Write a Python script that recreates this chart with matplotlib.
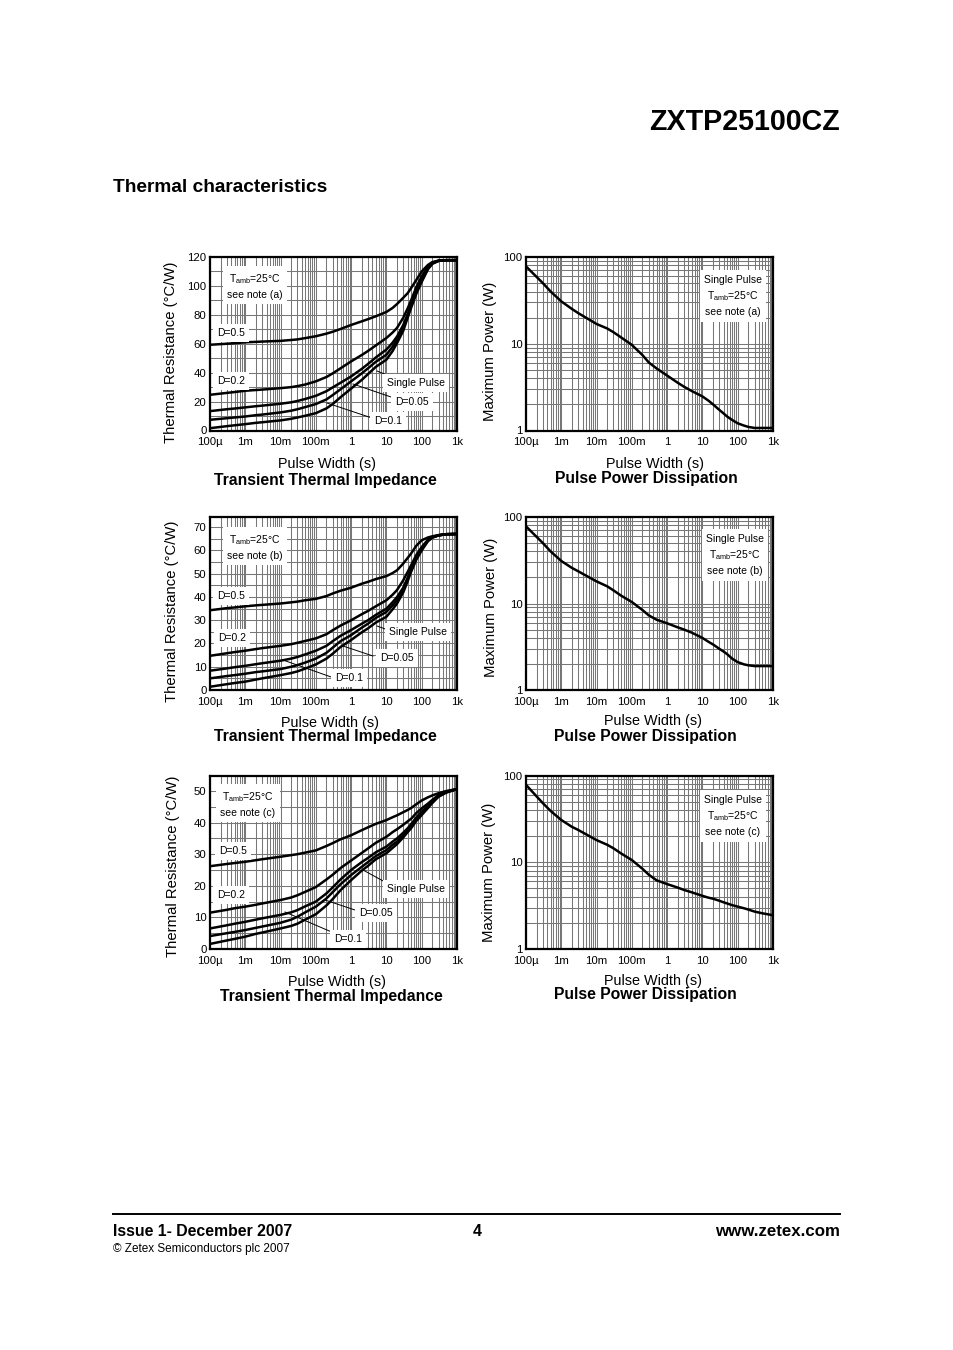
import matplotlib
matplotlib.use("Agg")
import matplotlib.pyplot as plt
from matplotlib.lines import Line2D
from matplotlib.ticker import FixedLocator, NullFormatter

plt.rcParams['font.family'] = ['Liberation Sans', 'DejaVu Sans']
plt.rcParams['mathtext.default'] = 'regular'

W, H = 954, 1350

# ====== DATA ======
decade_ticks = [1e-4, 1e-3, 1e-2, 1e-1, 1, 10, 100, 1000]
decade_labels = ["100µ", "1m", "10m", "100m", "1", "10", "100", "1k"]

# pulse width (s) used for all curves
width = [1e-4, 3e-4, 5e-4, 1e-3, 2e-3, 3e-3, 1e-2, 2e-2, 3e-2, 5e-2, 0.1, 0.2, 0.3, 0.5, 1, 2, 3, 5, 10,
         15, 20, 30, 40, 50, 70, 100, 150, 200, 300, 500, 1000]

# Transient thermal impedance, note (a)
a_d05 = [59.3, 60, 60.4, 61, 61.3, 61.5, 62, 62.6, 63, 63.9, 65.2, 67, 68.3, 70.2, 73, 75.5, 77, 79, 82,
         84.8, 87.5, 91.8, 95, 98.5, 104, 110, 114.5, 116.5, 117.5, 117.8, 117.8]
a_d02 = [24.7, 26, 26.6, 27.5, 28, 28.3, 29.3, 30, 30.7, 31.8, 34, 37, 39.5, 43, 47.8, 52.2, 55, 58.8, 64,
         67.8, 71, 78, 84.5, 90, 99, 106.7, 113, 116, 117.4, 117.8, 117.8]
a_d01 = [13.4, 14.7, 15.2, 16, 16.8, 17.2, 18.5, 19.5, 20.4, 21.8, 24, 27.2, 29.8, 33, 37.4, 42.6, 46, 50.5, 56,
         60.8, 65, 73, 80.5, 87, 96.5, 104.4, 112.5, 115.8, 117.4, 117.8, 117.8]
a_d005 = [7.4, 8.5, 9, 9.7, 10.6, 11, 12.5, 13.7, 14.7, 16.2, 18.3, 21.5, 24.5, 28.5, 34, 39.5, 43, 47.5, 52.4,
          58, 62.8, 71, 79.5, 86, 95.5, 103.7, 112, 115.5, 117.3, 117.8, 117.8]
a_single = [1.6, 3, 3.6, 4.4, 5.3, 5.7, 7, 8.1, 9, 10.2, 12, 15.3, 18.3, 23, 29, 35, 39, 44, 49,
            55, 60.5, 69, 78, 84.8, 94.5, 102.8, 111.5, 115.3, 117.3, 117.8, 117.8]

# Transient thermal impedance, note (b)
b_d05 = [34.3, 35.2, 35.5, 36, 36.4, 36.6, 37.2, 37.7, 38, 38.6, 39.2, 40.4, 41.5, 42.7, 44, 45.7, 46.5, 47.7, 49,
         50.3, 51.5, 54.4, 56.8, 58.7, 62, 64.4, 65.6, 66.1, 66.6, 67, 67.1]
b_d02 = [14.7, 15.8, 16.3, 16.9, 17.6, 18, 19, 19.7, 20.3, 21.1, 22.2, 24, 25.7, 27.7, 30, 32.6, 34, 36, 38.6,
         41, 43, 47.2, 50.8, 53.6, 58, 61.5, 64.6, 65.8, 66.6, 67, 67.1]
b_d01 = [8.3, 9.3, 9.8, 10.4, 11.1, 11.5, 12.6, 13.5, 14.2, 15.3, 16.9, 19, 21, 23.3, 25.8, 28.5, 30, 32.3, 35,
         37.8, 40, 44, 48.2, 52, 57, 61, 64.3, 65.7, 66.5, 67, 67.1]
b_d005 = [5, 6, 6.4, 7, 7.7, 8, 9, 10, 10.7, 11.8, 13.5, 16, 18.2, 21, 23.6, 26.8, 28.5, 31, 33.6,
          36.4, 38.6, 43.6, 48, 51.5, 56.5, 60.8, 64.2, 65.6, 66.5, 67, 67.1]
b_single = [1.4, 2.5, 3, 3.6, 4.5, 5, 6.4, 7.3, 8, 9.2, 11, 13.5, 15.6, 18.5, 21.5, 24.8, 26.5, 29, 31.5,
            34.7, 37.2, 42, 46.8, 50.8, 56, 60, 64, 65.5, 66.5, 67, 67.1]

# Transient thermal impedance, note (c)
c_d05 = [26.2, 26.9, 27.2, 27.6, 28.1, 28.4, 29.2, 29.7, 30, 30.5, 31.2, 32.6, 33.5, 34.7, 36, 37.6, 38.5, 39.6, 40.8,
         41.7, 42.3, 43.3, 44, 44.6, 45.8, 47, 48, 48.6, 49.3, 50, 50.6]
c_d02 = [11.5, 12.4, 12.9, 13.4, 14, 14.4, 15.5, 16.3, 17, 18.1, 19.6, 22, 23.5, 25.6, 28, 30.4, 31.8, 33.6, 35.5,
         37, 37.9, 39.3, 40.4, 41.2, 43, 44.5, 46, 47.2, 48.7, 49.8, 50.6]
c_d01 = [6.5, 7.5, 8, 8.6, 9.3, 9.7, 10.8, 11.6, 12.3, 13.5, 15, 17.6, 19.5, 22, 25, 27.5, 28.8, 30.6, 32.4,
         34, 35, 36.8, 38.2, 39.5, 41.6, 43.5, 45.2, 46.8, 48.5, 49.7, 50.6]
c_d005 = [4.1, 5, 5.4, 6, 6.7, 7.1, 8.3, 9.3, 10.2, 11.6, 13.4, 16, 18, 20.5, 23.4, 26, 27.5, 29.4, 31.3,
          33, 34, 36, 37.6, 38.8, 41, 43, 45, 46.5, 48.3, 49.6, 50.6]
c_single = [1.6, 2.7, 3.2, 3.9, 4.8, 5.2, 6.5, 7.3, 8, 9.3, 11, 13.8, 15.8, 18.6, 21.8, 24.8, 26.3, 28.4, 30.3,
            32, 33.2, 35.3, 37, 38.2, 40.5, 42.4, 44.6, 46.2, 48.2, 49.5, 50.6]

# Pulse power dissipation
power_a = [78, 50, 40, 30.8, 25.2, 22.6, 16.9, 15, 13.6, 11.8, 9.7, 7.4, 6.1, 5.2, 4.3, 3.55, 3.2, 2.85, 2.47,
           2.2, 2, 1.73, 1.57, 1.45, 1.32, 1.21, 1.14, 1.1, 1.07, 1.07, 1.07]
power_b = [78, 50, 40, 31, 25.8, 23.6, 18, 15.8, 14.2, 12.3, 10.4, 8.4, 7.3, 6.5, 5.9, 5.3, 5, 4.6, 4,
           3.6, 3.36, 3, 2.78, 2.6, 2.3, 2.1, 1.98, 1.93, 1.89, 1.89, 1.89]
power_c = [78, 48, 39, 30.7, 25.6, 23.6, 18, 15.9, 14.5, 12.6, 10.6, 8.4, 7.2, 6.2, 5.6, 5.1, 4.8, 4.5, 4.1,
           3.9, 3.8, 3.6, 3.45, 3.35, 3.2, 3.08, 2.95, 2.85, 2.7, 2.58, 2.45]


def px(x, y):
    return x / W, 1 - y / H


def page_text(x, y, s, **kw):
    kw.setdefault("ha", "center")
    kw.setdefault("va", "center")
    fx, fy = px(x, y)
    return fig.text(fx, fy, s, color="black", **kw)


def page_label(x, y, s, size=7.5):
    page_text(x, y, s, fontsize=size, linespacing=1.5, zorder=5,
              bbox=dict(facecolor="white", edgecolor="none", pad=3.2))


def leader(x0, y0, x1, y1):
    a = px(x0, y0)
    b = px(x1, y1)
    fig.add_artist(Line2D([a[0], b[0]], [a[1], b[1]], color="black", lw=0.7, zorder=4))


def make_axes(left, top, right, bottom):
    ax = fig.add_axes([left / W, 1 - bottom / H, (right - left) / W, (bottom - top) / H])
    ax.set_xscale("log")
    ax.set_xlim(1e-4, 1e3)
    ax.xaxis.set_major_locator(FixedLocator(decade_ticks))
    ax.xaxis.set_minor_locator(FixedLocator([m * d for d in decade_ticks[:-1] for m in range(2, 10)]))
    ax.xaxis.set_minor_formatter(NullFormatter())
    ax.set_xticklabels(decade_labels)
    ax.grid(True, which="both", color="#777777", lw=0.75)
    ax.set_axisbelow(True)
    ax.tick_params(which="both", length=0, labelsize=8.2)
    ax.tick_params(axis="x", pad=5)
    ax.tick_params(axis="y", pad=2.5)
    for s in ax.spines.values():
        s.set_linewidth(1.6)
    return ax


def impedance_panel(top, bottom, ymax, yticks, yminor, curves):
    ax = make_axes(210, top, 457, bottom)
    ax.set_ylim(0, ymax)
    ax.set_yticks(yticks)
    ax.set_yticks(yminor, minor=True)
    for c in curves:
        ax.plot(width, c, color="black", lw=1.8, solid_joinstyle="round")
    return ax


def power_panel(top, bottom, curve):
    ax = make_axes(526, top, 773, bottom)
    ax.set_yscale("log")
    ax.set_ylim(1, 100)
    ax.yaxis.set_major_locator(FixedLocator([1, 10, 100]))
    ax.yaxis.set_major_formatter(plt.FixedFormatter(["1", "10", "100"]))
    ax.yaxis.set_minor_locator(FixedLocator([m * d for d in [1, 10] for m in range(2, 10)]))
    ax.yaxis.set_minor_formatter(NullFormatter())
    ax.plot(width, curve, color="black", lw=1.8, solid_joinstyle="round")
    return ax


fig = plt.figure(figsize=(W / 100, H / 100), dpi=100, facecolor="white")

# ====== PAGE TEXT ======
page_text(840, 122, "ZXTP25100CZ", ha="right", fontsize=20.6, fontweight="bold")
page_text(113, 188, "Thermal characteristics", ha="left", fontsize=13.75, fontweight="bold")

# ====== ROW 1 ======
impedance_panel(257, 430.5, 120, range(0, 121, 20), range(10, 120, 20),
                [a_d05, a_d02, a_d01, a_d005, a_single])
power_panel(257, 430.5, power_a)

# ====== ROW 2 ======
impedance_panel(517, 690, 74.4, range(0, 71, 10), range(5, 75, 10),
                [b_d05, b_d02, b_d01, b_d005, b_single])
power_panel(517, 690, power_b)

# ====== ROW 3 ======
impedance_panel(775.5, 949, 54.9, range(0, 51, 10), range(5, 55, 10),
                [c_d05, c_d02, c_d01, c_d005, c_single])
power_panel(775.5, 949, power_c)

# ====== AXIS LABELS AND TITLES ======
for x, y, s in [(327, 464, "Pulse Width (s)"), (655, 464, "Pulse Width (s)"),
                (330, 723, "Pulse Width (s)"), (653, 721, "Pulse Width (s)"),
                (337, 982, "Pulse Width (s)"), (653, 981, "Pulse Width (s)")]:
    page_text(x, y, s, fontsize=10.4, zorder=5)

for x, y, s in [(325, 480, "Transient Thermal Impedance"), (646, 478, "Pulse Power Dissipation"),
                (325, 736, "Transient Thermal Impedance"), (645, 736, "Pulse Power Dissipation"),
                (331, 996, "Transient Thermal Impedance"), (645, 995, "Pulse Power Dissipation")]:
    page_text(x, y, s, fontsize=11.3, fontweight="bold", zorder=6)

for x, y, s in [(171, 352, "Thermal Resistance (°C/W)"), (490, 351, "Maximum Power (W)"),
                (172, 611, "Thermal Resistance (°C/W)"), (491, 607, "Maximum Power (W)"),
                (173, 866, "Thermal Resistance (°C/W)"), (489, 872, "Maximum Power (W)")]:
    page_text(x, y, s, fontsize=10.7, rotation=90)

# ====== NOTES ON THE CHARTS ======
TAMB = "T$_{amb}$=25°C"
page_label(255, 286, TAMB + "\nsee note (a)")
page_label(255, 547, TAMB + "\nsee note (b)")
page_label(248, 804, TAMB + "\nsee note (c)")
page_label(733, 296, "Single Pulse\n" + TAMB + "\nsee note (a)")
page_label(735, 555, "Single Pulse\n" + TAMB + "\nsee note (b)")
page_label(733, 816, "Single Pulse\n" + TAMB + "\nsee note (c)")

for x, y, s in [(231, 333, "D=0.5"), (231, 381, "D=0.2"), (416, 383, "Single Pulse"),
                (412, 402, "D=0.05"), (388, 421, "D=0.1"),
                (231, 596, "D=0.5"), (232, 638, "D=0.2"), (418, 632, "Single Pulse"),
                (397, 658, "D=0.05"), (349, 678, "D=0.1"),
                (233, 851, "D=0.5"), (231, 895, "D=0.2"), (416, 889, "Single Pulse"),
                (376, 913, "D=0.05"), (348, 939, "D=0.1")]:
    page_label(x, y, s)

leader(377, 371, 392, 377)
leader(353, 384, 394, 398)
leader(327, 403, 372, 418)
leader(377, 626, 388, 630)
leader(343, 646, 373, 656)
leader(283, 660, 334, 678)
leader(363, 870, 385, 882)
leader(325, 900, 358, 911)
leader(285, 912, 334, 933)

# ====== FOOTER ======
fig.add_artist(Line2D([113 / W, 840 / W], [1 - 1213.5 / H, 1 - 1213.5 / H], color="black", lw=1.4))
page_text(113, 1232, "Issue 1- December 2007", ha="left", fontsize=11.4, fontweight="bold")
page_text(477, 1232, "4", fontsize=11.4, fontweight="bold")
page_text(840, 1232, "www.zetex.com", ha="right", fontsize=12.2, fontweight="bold")
page_text(113, 1249, "© Zetex Semiconductors plc 2007", ha="left", fontsize=8.45)

fig.savefig("out.png", dpi=100)
